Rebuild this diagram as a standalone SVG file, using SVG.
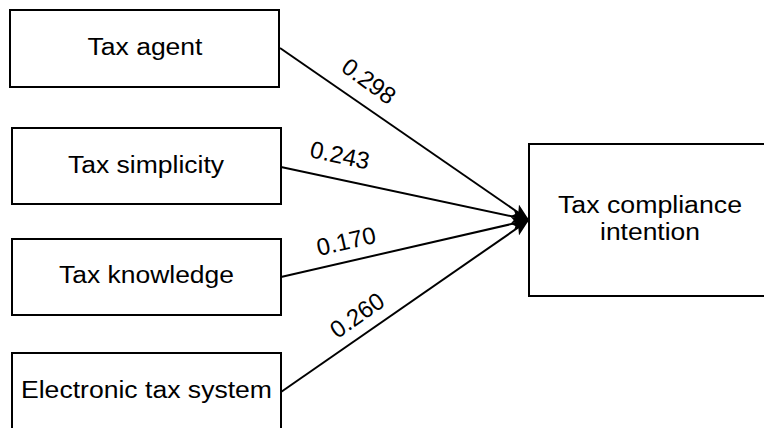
<svg xmlns="http://www.w3.org/2000/svg" width="764" height="428" viewBox="0 0 764 428">
<style>
.box{fill:#fff;stroke:#000;stroke-width:2}
.t{font-family:"Liberation Sans",Arial,sans-serif;font-size:23px;fill:#000;text-anchor:middle}
.l{font-family:"Liberation Sans",Arial,sans-serif;font-size:24px;fill:#000;text-anchor:middle}
.c{stroke:#000;stroke-width:2;fill:none;marker-end:url(#ah)}
</style>
<defs>
<marker id="ah" markerUnits="userSpaceOnUse" markerWidth="18" markerHeight="14" refX="17" refY="7" orient="auto">
<path d="M0,0 L17,7 L0,14 L4,7 Z" fill="#000"/>
</marker>
</defs>
<rect width="764" height="428" fill="#fff"/>
<g id="connectors">
<line class="c" x1="280" y1="48" x2="529" y2="220"/>
<line class="c" x1="281" y1="167" x2="529" y2="220"/>
<line class="c" x1="281" y1="277" x2="529" y2="220"/>
<line class="c" x1="281" y1="392" x2="529" y2="220"/>
<text class="l" transform="translate(369,81) rotate(36) translate(0,8.5)">0.298</text>
<text class="l" transform="translate(340,155) rotate(12) translate(0,8.5)">0.243</text>
<text class="l" transform="translate(346,241) rotate(-13) translate(0,8.5)">0.170</text>
<text class="l" transform="translate(357,315) rotate(-35) translate(0,8.5)">0.260</text>
</g>
<g id="tax-agent">
<rect class="box" x="10" y="10" width="269" height="77"/>
<text class="t" x="145" y="55" textLength="115" lengthAdjust="spacingAndGlyphs">Tax agent</text>
</g>
<g id="tax-simplicity">
<rect class="box" x="12" y="128" width="269" height="76"/>
<text class="t" x="146" y="173" textLength="156" lengthAdjust="spacingAndGlyphs">Tax simplicity</text>
</g>
<g id="tax-knowledge">
<rect class="box" x="12" y="239" width="269" height="76"/>
<text class="t" x="146.5" y="283" textLength="175" lengthAdjust="spacingAndGlyphs">Tax knowledge</text>
</g>
<g id="electronic-tax-system">
<rect class="box" x="12" y="353" width="269" height="100"/>
<text class="t" x="146.5" y="398" textLength="251" lengthAdjust="spacingAndGlyphs">Electronic tax system</text>
</g>
<g id="tax-compliance-intention">
<rect class="box" x="529" y="144" width="260" height="152"/>
<text class="t" x="650" y="213" textLength="184" lengthAdjust="spacingAndGlyphs">Tax compliance</text>
<text class="t" x="650" y="240" textLength="100" lengthAdjust="spacingAndGlyphs">intention</text>
</g>
</svg>
